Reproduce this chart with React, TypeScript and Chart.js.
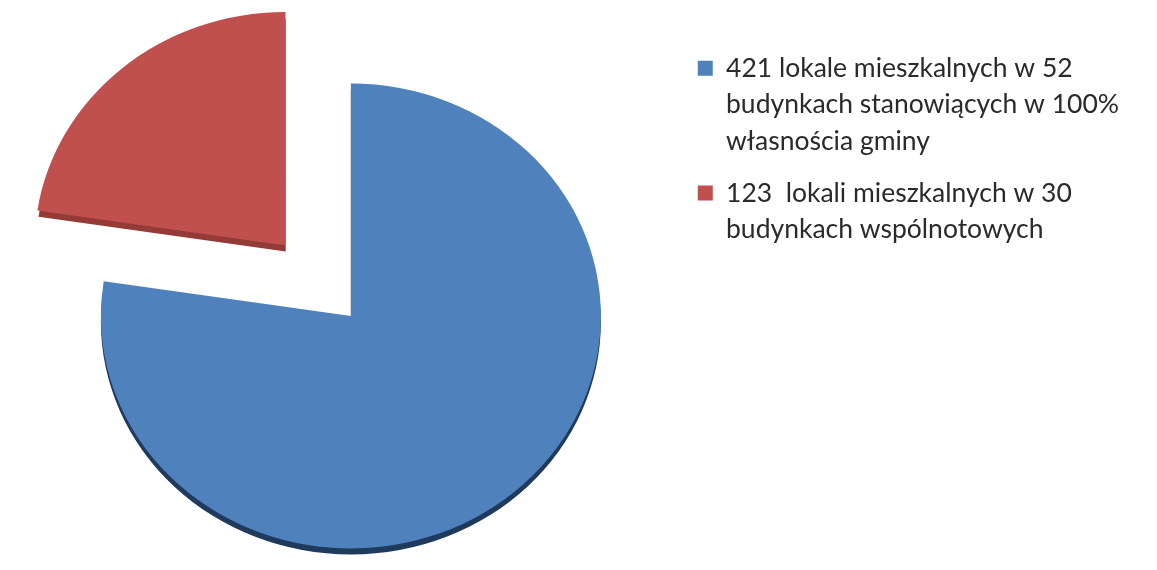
import React, { useEffect, useRef } from "react";
import { Chart, registerables } from "chart.js";

Chart.register(...registerables);

const categories: string[][] = [
  ["421 lokale mieszkalnych w 52", "budynkach stanowiących w 100%", "własnościa gminy"],
  ["123  lokali mieszkalnych w 30", "budynkach wspólnotowych"],
];
const values: number[] = [421, 123];
const sliceColors: string[] = ["#4F81BD", "#C0504D"];
const rimColors: string[] = ["#1F3A5C", "#943A37"];
// Chart.js moves an arc by offset / 4 pixels
const sliceOffsets: number[] = [0, 400];

const TILT = 0.93;
const DEPTH = 6;

const tiltPlugin = {
  id: "tilt3d",
  beforeDatasetsDraw(chart: any) {
    const ctx = chart.ctx;
    const meta = chart.getDatasetMeta(0);
    const arcs = meta.data;
    if (!arcs.length) return;
    const cy = arcs[0].y;
    ctx.save();
    ctx.translate(0, cy);
    ctx.scale(1, TILT);
    ctx.translate(0, -cy);
    arcs.forEach((arc: any, i: number) => {
      const { x, y, startAngle, endAngle, outerRadius } = arc;
      const mid = (startAngle + endAngle) / 2;
      const off = (arc.options.offset || 0) / 4;
      const ox = Math.cos(mid) * off;
      const oy = Math.sin(mid) * off;
      ctx.save();
      ctx.translate(ox, oy + DEPTH / TILT);
      ctx.beginPath();
      ctx.moveTo(x, y);
      ctx.arc(x, y, outerRadius, startAngle, endAngle);
      ctx.closePath();
      ctx.fillStyle = rimColors[i];
      ctx.fill();
      ctx.restore();
    });
  },
  afterDatasetsDraw(chart: any) {
    chart.ctx.restore();
  },
};

export default function App() {
  const ref = useRef<HTMLCanvasElement>(null);
  useEffect(() => {
    if (!ref.current) return;
    const chart = new Chart(ref.current, {
      type: "pie",
      data: {
        labels: categories as any,
        datasets: [
          {
            data: values,
            backgroundColor: sliceColors,
            borderWidth: 0,
            offset: sliceOffsets,
            hoverOffset: 0,
            clip: false as any,
          } as any,
        ],
      },
      options: {
        animation: false,
        responsive: false,
        events: [],
        radius: 250,
        rotation: 0,
        layout: { padding: { left: 19, right: 28, top: 40, bottom: 0 } },
        plugins: {
          tooltip: { enabled: false },
          legend: {
            position: "right",
            align: "start",
            labels: {
              boxWidth: 15,
              boxHeight: 15,
              padding: 15,
              color: "#2a2a2a",
              font: { family: "Lato", size: 26.5, lineHeight: 1.38 },
            },
          },
        },
      } as any,
      plugins: [tiltPlugin],
    });
    return () => chart.destroy();
  }, []);
  return (
    <div style={{ position: "fixed", left: 0, top: 0, width: 1157, height: 592, background: "#fff" }}>
      <canvas ref={ref} width={1157} height={592} style={{ display: "block", width: 1157, height: 592 }} />
    </div>
  );
}
